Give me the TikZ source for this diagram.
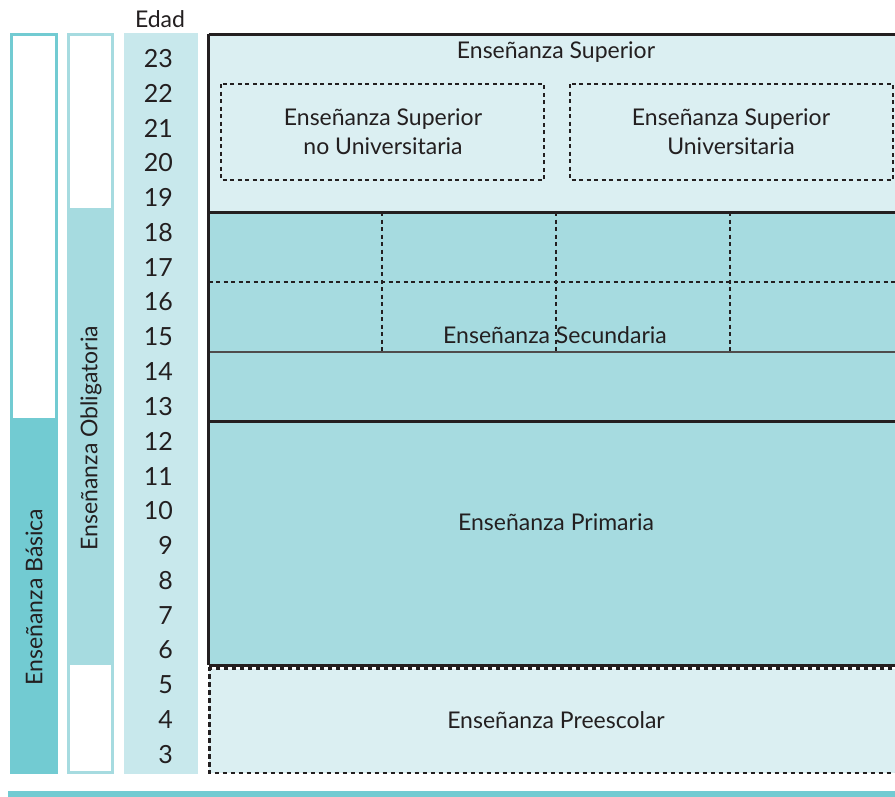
\documentclass[tikz,border=0pt]{standalone}
\usepackage{fontspec}
\setmainfont{Lato}
\definecolor{ink}{HTML}{231F20}
\definecolor{teal1}{HTML}{72CBD2}
\definecolor{teal2}{HTML}{A6DBE0}
\definecolor{teal3}{HTML}{C8E8EC}
\definecolor{teal4}{HTML}{DBEFF2}
\tikzset{
  lbl/.style={text=ink, font=\fontsize{23}{27}\selectfont, align=center, inner sep=0pt},
  num/.style={text=ink, font=\fontsize{25}{28}\selectfont, anchor=east, inner sep=0pt},
  thickbox/.style={draw=ink, line width=3pt},
  thindash/.style={draw=ink, line width=1.3pt, dash pattern=on 4pt off 3.5pt},
  boldash/.style={draw=ink, line width=2.8pt, dash pattern=on 4.5pt off 3.5pt}
}
\begin{document}
\begin{tikzpicture}[x=1pt,y=-1pt]
\clip (0,0) rectangle (895,796);
\fill[white] (0,0) rectangle (895,796);
% left bars
\fill[teal1] (10,420) rectangle (58,774);
\draw[teal1, line width=3.2pt] (11.6,34.6) rectangle (56.4,420);
\fill[teal2] (67,209) rectangle (114,664);
\draw[teal2, line width=2.8pt] (68.4,34.4) rectangle (112.6,209);
\draw[teal2, line width=2.8pt] (68.4,664) rectangle (112.6,772.6);
\node[lbl, rotate=90] (basica) at (34,597) {Enseñanza Básica};
\node[lbl, rotate=90] (oblig) at (91,438) {Enseñanza Obligatoria};
% age column
\fill[teal3] (124,33) rectangle (198,774);
\node[lbl] (edad) at (160,19) {Edad};
\foreach \a [count=\i from 0] in {23,22,...,3}{
  \node[num] (age\a) at (173,{58.5+34.8*\i}) {\a};
}
% superior
\fill[teal4] (208.5,34) rectangle (900,212);
\draw[thickbox] (208.5,34) -- (900,34) (208.5,34) -- (208.5,212);
\node[lbl] (sup) at (556,52) {Enseñanza Superior};
\draw[thindash] (221,84) rectangle (544,180);
\draw[thindash] (570,84) rectangle (893,180);
\node[lbl] (supno) at (383,132) {Enseñanza Superior\\[2pt]no Universitaria};
\node[lbl] (supuni) at (731,132) {Enseñanza Superior\\[2pt]Universitaria};
% secundaria + primaria
\fill[teal2] (208.5,212) rectangle (900,665);
\draw[thindash] (208.5,282) -- (900,282);
\foreach \xx in {382,556,730}{\draw[thindash] (\xx,212) -- (\xx,352);}
\draw[ink!80, line width=1.8pt] (208.5,352) -- (900,352);
\draw[thickbox] (208.5,212) -- (900,212);
\draw[thickbox] (208.5,212) -- (208.5,665);
\draw[thickbox] (208.5,421) -- (900,421);
\draw[thickbox] (208.5,665) -- (900,665);
\node[lbl] (sec) at (555,335) {Enseñanza Secundaria};
\node[lbl] (prim) at (556,522) {Enseñanza Primaria};
% preescolar
\fill[teal4] (209,668.5) rectangle (900,773);
\draw[boldash] (900,668.5) -- (209.5,668.5) -- (209.5,773) -- (900,773);
\node[lbl] (pre) at (556,720) {Enseñanza Preescolar};
% bottom rule
\fill[teal1] (8,791) rectangle (900,797);
\end{tikzpicture}
\end{document}
